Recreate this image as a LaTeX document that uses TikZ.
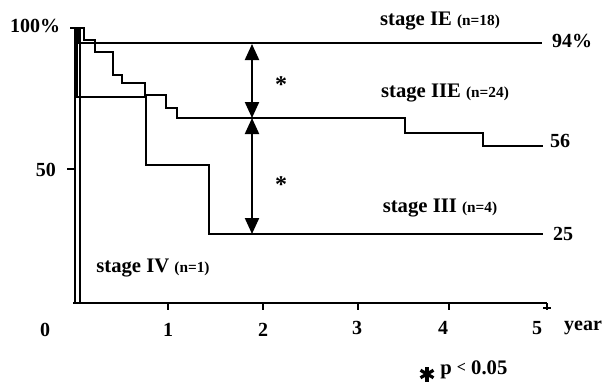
\documentclass[tikz,border=0pt]{standalone}
\usepackage{fontspec}
\setmainfont{Liberation Serif}
\usetikzlibrary{arrows.meta}
\begin{document}
\begin{tikzpicture}[x=0.75pt,y=-0.75pt,
  curve/.style={line width=2.2pt,line join=miter},
  axisline/.style={line width=2.2pt},
  lbl/.style={font=\bfseries\fontsize{15}{15}\selectfont,inner sep=0pt},
  stagelbl/.style={font=\bfseries\fontsize{15.5}{16}\selectfont,inner sep=0pt},
  dbl/.style={line width=1.6pt,{Triangle[length=12pt,width=10.5pt]}-{Triangle[length=12pt,width=10.5pt]}},
  star/.style={font=\bfseries\fontsize{18}{18}\selectfont,inner sep=0pt},
  bigstar/.style={line width=2.4pt}]
\useasboundingbox[fill=white] (0,0) rectangle (603,386);
% axes
\draw[axisline] (75,28) -- (75,304);
\draw[axisline] (73,303) -- (547,303);
\draw[axisline] (70,28) -- (80,28);
\draw[axisline] (67,169) -- (75,169);
\foreach \x in {168,263,358,449,547} \draw[axisline] (\x,303) -- (\x,310);
\draw[axisline] (543,308) -- (551,308);
% stage IV
\draw[curve] (80,28) -- (80,303);
% stage IE
\draw[curve] (79,28) -- (79,43) -- (542,43);
% stage III
\draw[curve] (77,28) -- (77,97) -- (146,97) -- (146,165) -- (209,165) -- (209,234) -- (543,234);
% stage IIE
\draw[curve] (78,28) -- (84,28) -- (84,40) -- (95,40) -- (95,52) -- (113,52) -- (113,75) -- (122,75) -- (122,83) -- (145,83) -- (145,95) -- (166,95) -- (166,108) -- (177,108) -- (177,118) -- (405,118) -- (405,133) -- (483,133) -- (483,146) -- (543,146);
% comparison arrows
\coordinate (a1) at (252,44);
\coordinate (a2) at (252,118);
\coordinate (a3) at (252,234);
\draw[dbl] (a1) -- (a2);
\draw[dbl] (a2) -- (a3);
\node[star] (s1) at (281,85) {*};
\node[star] (s2) at (281,185) {*};
% axis labels
\node[lbl] (y100) at (35,26) {100\%};
\node[lbl] (y50) at (46,170) {50};
\node[lbl] (y0) at (45,330) {0};
\node[lbl] (x1) at (168,330) {1};
\node[lbl] (x2) at (263,330) {2};
\node[lbl] (x3) at (357,328) {3};
\node[lbl] (x4) at (443,328) {4};
\node[lbl] (x5) at (537,328) {5};
\node[lbl] (xy) at (583,328) {year};
% end values
\node[lbl] (v94) at (572,41) {94\%};
\node[lbl] (v56) at (560,141) {56};
\node[lbl] (v25) at (563,234) {25};
% stage labels
\node[stagelbl] (l1) at (440,21) {stage IE {\fontsize{11.5}{12}\selectfont(n=18)}};
\node[stagelbl] (l2) at (445,93) {stage IIE {\fontsize{11.5}{12}\selectfont(n=24)}};
\node[stagelbl] (l3) at (440,208) {stage III {\fontsize{11.5}{12}\selectfont(n=4)}};
\node[stagelbl] (l4) at (153,268) {stage IV {\fontsize{11.5}{12}\selectfont(n=1)}};
% footnote
\coordinate (fs) at (427,374);
\foreach \a in {90,30,150} \draw[bigstar] ([shift={(\a:7.5)}]fs) -- ([shift={(\a+180:7.5)}]fs);
\node[lbl,font=\bfseries\fontsize{15.5}{15.5}\selectfont,anchor=base west] (fp) at (440,374) {p {\fontsize{12}{12}\selectfont\raisebox{1.5pt}{<}} 0.05};
\end{tikzpicture}
\end{document}
